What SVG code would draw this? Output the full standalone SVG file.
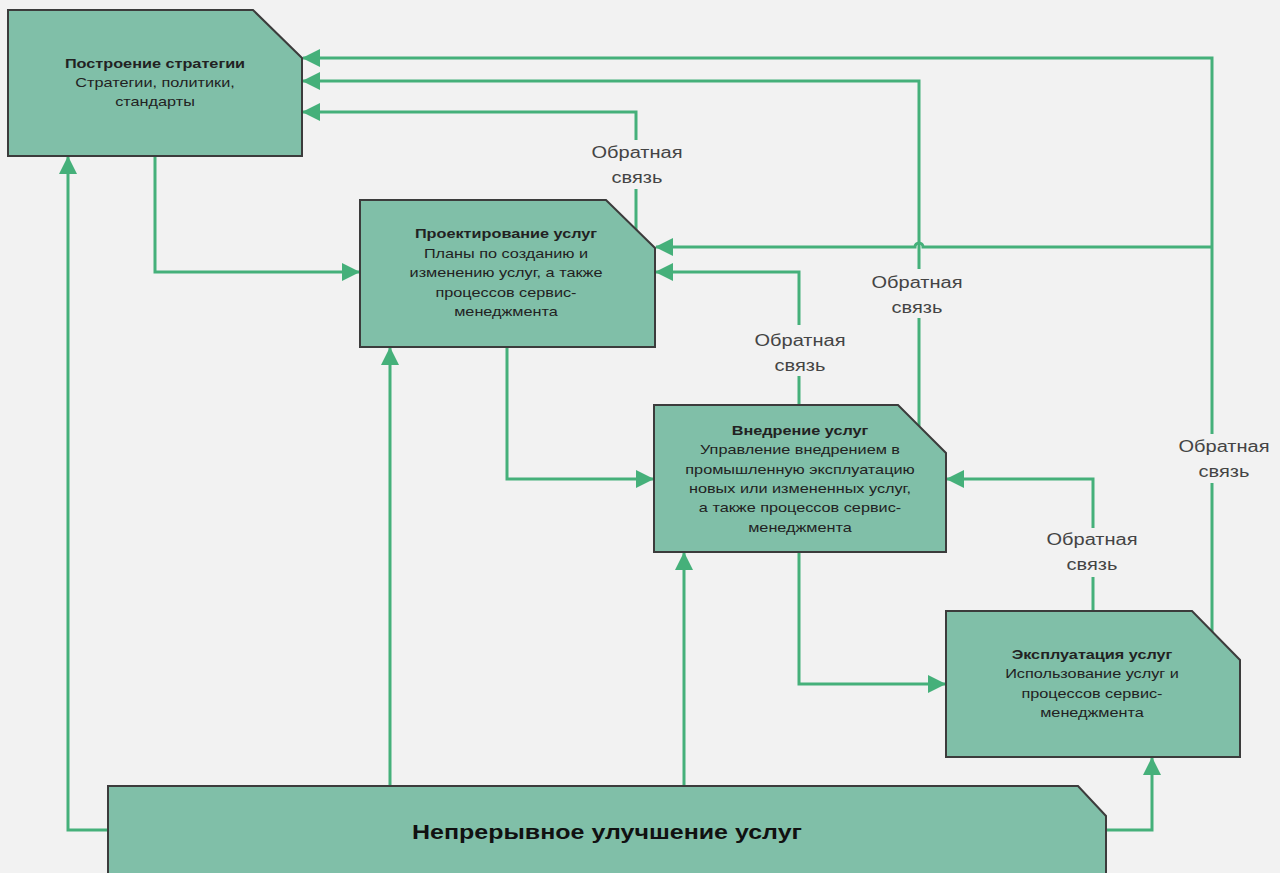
<svg xmlns="http://www.w3.org/2000/svg" width="1280" height="873" viewBox="0 0 1280 873">
<style>
.node{fill:#80bfa8;stroke:#3c3c3c;stroke-width:2}
.c{fill:none;stroke:#45b07a;stroke-width:3}
.t{font-family:"Liberation Sans",Arial,sans-serif;font-size:13px;fill:#222;text-anchor:middle}
.b{font-weight:bold}
.big{font-family:"Liberation Sans",Arial,sans-serif;font-size:20px;font-weight:bold;fill:#111;text-anchor:middle}
.fb{font-family:"Liberation Sans",Arial,sans-serif;font-size:16px;fill:#444;text-anchor:middle}
</style>
<defs>
<marker id="ah" viewBox="0 0 18 18" refX="17" refY="9" markerWidth="18" markerHeight="18" markerUnits="userSpaceOnUse" orient="auto">
<path d="M0,0 L18,9 L0,18 Z" fill="#45b07a"/>
</marker>
</defs>
<rect width="1280" height="873" fill="#f2f2f2"/>

<g id="connectors">
<!-- forward flows -->
<path class="c" d="M155,156 V272 H359" marker-end="url(#ah)"/>
<path class="c" d="M108,830 H68 V157" marker-end="url(#ah)"/>
<path class="c" d="M390,786 V348" marker-end="url(#ah)"/>
<path class="c" d="M684,786 V553" marker-end="url(#ah)"/>
<path class="c" d="M1106,830 H1152 V758" marker-end="url(#ah)"/>
<path class="c" d="M507,347 V479 H653" marker-end="url(#ah)"/>
<path class="c" d="M799,552 V684 H945" marker-end="url(#ah)"/>
<!-- feedback -->
<path class="c" d="M636,230 V189"/>
<path class="c" d="M636,140 V112 H303" marker-end="url(#ah)"/>
<path class="c" d="M919,426 V318"/>
<path class="c" d="M919,269 V81 H303" marker-end="url(#ah)"/>
<path class="c" d="M1212,632 V483"/>
<path class="c" d="M1212,434 V58 H303" marker-end="url(#ah)"/>
<path class="c" d="M1212,247 H923 A4,4 0 0 0 915,247 H656" marker-end="url(#ah)"/>
<path class="c" d="M799,405 V376"/>
<path class="c" d="M799,325 V272 H656" marker-end="url(#ah)"/>
<path class="c" d="M1093,611 V577"/>
<path class="c" d="M1093,528 V479 H947" marker-end="url(#ah)"/>
</g>

<g id="lbl-fb1"><g transform="translate(637,0) scale(1.25,1)"><text class="fb" x="0" y="158">Обратная</text><text class="fb" x="0" y="183">связь</text></g></g>
<g id="lbl-fb2"><g transform="translate(917,0) scale(1.25,1)"><text class="fb" x="0" y="288">Обратная</text><text class="fb" x="0" y="313">связь</text></g></g>
<g id="lbl-fb3"><g transform="translate(1224,0) scale(1.25,1)"><text class="fb" x="0" y="452">Обратная</text><text class="fb" x="0" y="477">связь</text></g></g>
<g id="lbl-fb4"><g transform="translate(1092,0) scale(1.25,1)"><text class="fb" x="0" y="545">Обратная</text><text class="fb" x="0" y="570">связь</text></g></g>
<g id="lbl-fb5"><g transform="translate(800,0) scale(1.25,1)"><text class="fb" x="0" y="346">Обратная</text><text class="fb" x="0" y="371">связь</text></g></g>

<g id="strategy">
<path class="node" d="M8,10 H253 L302,58 V156 H8 Z"/>
<g transform="translate(155,0) scale(1.25,1)">
<text class="t b" x="0" y="68">Построение стратегии</text>
<text class="t" x="0" y="87">Стратегии, политики,</text>
<text class="t" x="0" y="106">стандарты</text>
</g>
</g>

<g id="design">
<path class="node" d="M360,200 H606 L655,248 V347 H360 Z"/>
<g transform="translate(506,0) scale(1.25,1)">
<text class="t b" x="0" y="238">Проектирование услуг</text>
<text class="t" x="0" y="258">Планы по созданию и</text>
<text class="t" x="0" y="277">изменению услуг, а также</text>
<text class="t" x="0" y="297">процессов сервис-</text>
<text class="t" x="0" y="316">менеджмента</text>
</g>
</g>

<g id="transition">
<path class="node" d="M654,405 H898 L946,453 V552 H654 Z"/>
<g transform="translate(800,0) scale(1.25,1)">
<text class="t b" x="0" y="435">Внедрение услуг</text>
<text class="t" x="0" y="454">Управление внедрением в</text>
<text class="t" x="0" y="474">промышленную эксплуатацию</text>
<text class="t" x="0" y="493">новых или измененных услуг,</text>
<text class="t" x="0" y="512">а также процессов сервис-</text>
<text class="t" x="0" y="532">менеджмента</text>
</g>
</g>

<g id="operation">
<path class="node" d="M946,611 H1192 L1240,660 V757 H946 Z"/>
<g transform="translate(1092,0) scale(1.25,1)">
<text class="t b" x="0" y="659">Эксплуатация услуг</text>
<text class="t" x="0" y="678">Использование услуг и</text>
<text class="t" x="0" y="698">процессов сервис-</text>
<text class="t" x="0" y="717">менеджмента</text>
</g>
</g>

<g id="improvement">
<path class="node" d="M108,786 H1078 L1106,816 V880 H108 Z"/>
<g transform="translate(607,0) scale(1.25,1)">
<text class="big" x="0" y="839">Непрерывное улучшение услуг</text>
</g>
</g>
</svg>
